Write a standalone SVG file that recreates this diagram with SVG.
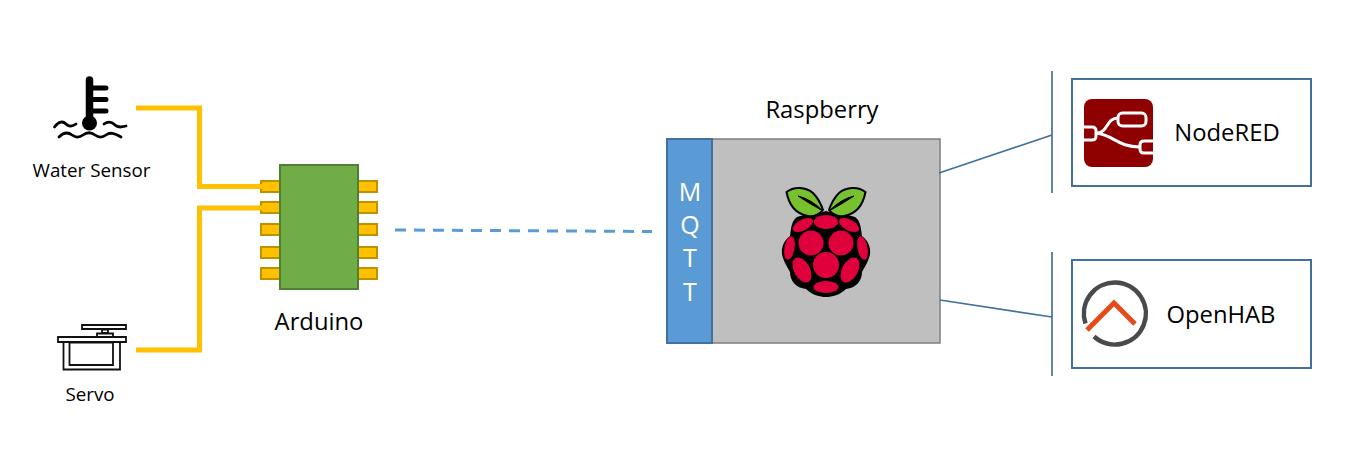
<svg xmlns="http://www.w3.org/2000/svg" width="1368" height="454" viewBox="0 0 1368 454">
<style>
text{font-family:"Open Sans","Noto Sans","Liberation Sans",sans-serif;fill:#000}
.lbl{font-size:23.800px}
.sm{font-size:18.800px}
.mq{font-size:25px;fill:#fff}
.pin{fill:#ffc000;stroke:#bf9000;stroke-width:2}
.wire{fill:none;stroke:#ffc000;stroke-width:5}
.link{fill:none;stroke:#41719c;stroke-width:1.700}
.box{fill:#fff;stroke:#41719c;stroke-width:2}
.ico{fill:none;stroke:#111;stroke-width:1.800}
.berry{fill:#e0003c}
.leaf{fill:#77c12f;stroke:#000;stroke-width:2;stroke-linejoin:round}
</style>
<rect width="1368" height="454" fill="#fff"/>
<g id="water-sensor">
<path d="M89.500 80V118" fill="none" stroke="#000" stroke-width="7.500" stroke-linecap="round"/>
<path d="M90 88H106M90 99.500H106M90 111H106" fill="none" stroke="#000" stroke-width="5" stroke-linecap="round"/>
<circle cx="89.500" cy="123" r="7.500" fill="#000"/>
<path d="M54.500 127C59 121 63 121 66 124S72 127 76 124M104 124C108 121 112 122 115 125S122 127 126 126M59 137C64 132 68 132 72 135S79 138 83 135S91 132 95 135S102 138 106 135S114 133 121 137" fill="none" stroke="#000" stroke-width="2.800" stroke-linecap="round"/>
<text class="sm" x="91.500" y="177" text-anchor="middle">Water Sensor</text>
</g>
<g id="servo">
<path class="ico" d="M82 325H126V329H82ZM102 329.500H108V333H102ZM97 333.500H113V337H97ZM58 337H126V342H58ZM63.500 342V369.500H120V342M69.500 342.500H113V365H69.500Z"/>
<text class="sm" x="90" y="401" text-anchor="middle">Servo</text>
</g>
<g id="arduino">
<rect class="pin" x="261" y="181" width="19" height="11"/>
<rect class="pin" x="261" y="202" width="19" height="11"/>
<rect class="pin" x="261" y="224" width="19" height="11"/>
<rect class="pin" x="261" y="247" width="19" height="11"/>
<rect class="pin" x="261" y="268" width="19" height="11"/>
<rect class="pin" x="358" y="181" width="19" height="11"/>
<rect class="pin" x="358" y="202" width="19" height="11"/>
<rect class="pin" x="358" y="224" width="19" height="11"/>
<rect class="pin" x="358" y="247" width="19" height="11"/>
<rect class="pin" x="358" y="268" width="19" height="11"/>
<rect x="280" y="165" width="78" height="124" fill="#70ad47" stroke="#507e32" stroke-width="2"/>
<text class="lbl" x="319" y="330" text-anchor="middle">Arduino</text>
</g>
<g id="raspberry">
<rect x="712" y="139" width="228" height="204" fill="#bfbfbf" stroke="#7f7f7f" stroke-width="1.500"/>
<text class="lbl" x="822" y="118" text-anchor="middle">Raspberry</text>
<path d="M826 211C818 214 805 214 797 217C791 221 791 230 790 236C783 241 780 250 783 258C785 264 788 268 790 272C790 281 796 288 806 289C812 295 820 297 826 297C832 297 840 295 846 289C856 288 862 281 862 272C864 268 867 264 869 258C872 250 869 241 862 236C861 230 861 221 855 217C847 214 834 214 826 211Z" fill="#000"/>
<path class="leaf" d="M786.500 192C794 186 806 187 813 193C818 198 821 204 823 210C820 214 814 217 808 216C796 214 789 205 786.500 192Z"/>
<path class="leaf" d="M865.500 192C858 186 846 187 839 193C834 198 831 204 829 210C832 214 838 217 844 216C856 214 863 205 865.500 192Z"/>
<path d="M798 196Q811 199 823 211Q810 204 798 196ZM854 196Q841 199 829 211Q842 204 854 196Z" fill="#000" stroke="#000" stroke-width="1"/>
<ellipse class="berry" cx="826" cy="222" rx="12" ry="7"/>
<circle class="berry" cx="811" cy="243" r="12.500"/>
<circle class="berry" cx="841" cy="243" r="12.500"/>
<circle class="berry" cx="826" cy="265" r="13"/>
<ellipse class="berry" cx="826" cy="287" rx="12.500" ry="6"/>
<ellipse class="berry" cx="803" cy="225" rx="11" ry="5.500" transform="rotate(-28 803 225)"/>
<ellipse class="berry" cx="849" cy="225" rx="11" ry="5.500" transform="rotate(28 849 225)"/>
<ellipse class="berry" cx="789.500" cy="248" rx="5" ry="12" transform="rotate(10 789.500 248)"/>
<ellipse class="berry" cx="862.500" cy="248" rx="5" ry="12" transform="rotate(-10 862.500 248)"/>
<ellipse class="berry" cx="802" cy="270" rx="8" ry="13.500" transform="rotate(-28 802 270)"/>
<ellipse class="berry" cx="850" cy="270" rx="8" ry="13.500" transform="rotate(28 850 270)"/>
</g>
<g id="mqtt">
<rect x="667" y="139" width="45" height="204" fill="#5b9bd5" stroke="#41719c" stroke-width="2"/>
<text class="mq" x="690" y="201" text-anchor="middle">M</text>
<text class="mq" x="690" y="234" text-anchor="middle">Q</text>
<text class="mq" x="690" y="267" text-anchor="middle">T</text>
<text class="mq" x="690" y="301" text-anchor="middle">T</text>
</g>
<g id="nodered">
<rect class="box" x="1072" y="79" width="239" height="107"/>
<rect x="1084" y="99" width="69" height="68" rx="8" fill="#8f0000"/>
<g fill="none" stroke="#fff" stroke-width="3">
<path d="M1097 133C1108 133 1106 118 1118 118"/>
<path d="M1097 133C1115 136 1118 147 1140 147"/>
<rect x="1118" y="113" width="28" height="13" rx="4.500"/>
<path d="M1084 127H1092Q1096 127 1096 131V136Q1096 140 1092 140H1084"/>
<path d="M1153 141H1144Q1140 141 1140 145V149Q1140 153 1144 153H1153"/>
</g>
<text class="lbl" x="1227" y="141" text-anchor="middle">NodeRED</text>
</g>
<g id="openhab">
<rect class="box" x="1072" y="260" width="239" height="108"/>
<path d="M1085.500 323.500A31 31 0 1 1 1094 336.500" fill="none" stroke="#4a4a4a" stroke-width="4.500"/>
<path d="M1087 330L1114 303L1135 324" fill="none" stroke="#e64a19" stroke-width="5"/>
<text class="lbl" x="1221" y="323" text-anchor="middle">OpenHAB</text>
</g>
<g id="connectors">
<path class="wire" d="M136 108H199.500V186.500H262"/>
<path class="wire" d="M136 350H199.500V208H262"/>
<path d="M395 230L652 231.500" fill="none" stroke="#5b9bd5" stroke-width="3" stroke-dasharray="11 8"/>
<path class="link" d="M939 173L1052 135"/>
<path class="link" d="M940 300L1052 317"/>
<path class="link" d="M1052 71V193"/>
<path class="link" d="M1052 252V376"/>
</g>
</svg>
